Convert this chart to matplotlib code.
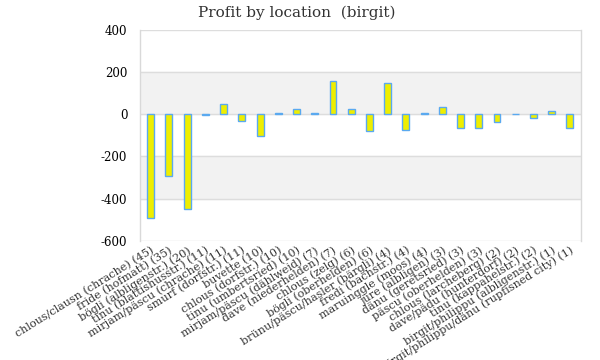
import matplotlib
matplotlib.use("Agg")
import matplotlib.pyplot as plt

# profit per location, with number of events in brackets
locations = [
    "chlous/clausn (chrache) (45)",
    "fride (hofmatt) (35)",
    "bögli (albligenstr.) (20)",
    "tinu (blattishusstr.) (11)",
    "mirjam/päscu (chrache) (11)",
    "smurf (dorfstr.) (11)",
    "buvette (10)",
    "chlous (dorfstr.) (10)",
    "tinu (umbertsried) (10)",
    "mirjam/päscu (dählweid) (7)",
    "dave (niederhelden) (7)",
    "chlous (zelg) (6)",
    "bögli (oberhelden) (6)",
    "brünu/päscu/hasler (bärgli) (4)",
    "fredi (bachstr.) (4)",
    "maruinggle (moos) (4)",
    "jüre (albligen) (3)",
    "dänu (geretsried) (3)",
    "päscu (oberhelden) (3)",
    "chlous (larcheberg) (2)",
    "dave/pädu (hunterdorf) (2)",
    "tinu (kappahelstr.) (2)",
    "birgit/philippu (albligenstr.) (1)",
    "birgit/philippu/dänu (rupfisned city) (1)",
]
profit = [-493, -292, -449, -2, 51, -30, -101, 8, 25, 8, 159, 25,
          -81, 149, -73, 6, 35, -63, -63, -38, -1, -20, 16, -63]
yticks = [400, 200, 0, -200, -400, -600]

plt.rcParams['font.family'] = ['DejaVu Serif']

fig = plt.figure(figsize=(6, 3.6), dpi=100)
ax = fig.add_axes([0.233, 0.331, 0.735, 0.586])

# alternating bands
ax.axhspan(0, 200, color='#f2f2f2', zorder=0)
ax.axhspan(-400, -200, color='#f2f2f2', zorder=0)

x = range(len(locations))
ax.bar(x, profit, width=0.38, color='#eeee00', edgecolor='#5aa9f0', linewidth=1.0, zorder=3)

ax.set_ylim(-600, 400)
ax.set_xlim(-0.6, len(locations) - 0.4)
ax.set_yticks(yticks)
ax.set_yticklabels([str(v) for v in yticks], fontsize=8.5)
ax.yaxis.grid(True, color='#dddddd', linewidth=1, zorder=1)
ax.set_axisbelow(True)

ax.set_xticks(list(x))
ax.set_xticklabels(locations, rotation=32, ha='right', rotation_mode='anchor', fontsize=8, color='#333333')
ax.tick_params(axis='both', length=0, pad=9)
ax.tick_params(axis='x', pad=3)

for s in ['top', 'bottom']:
    ax.spines[s].set_visible(False)
ax.spines['left'].set_color('#d9d9d9')
ax.spines['right'].set_color('#d9d9d9')
ax.spines['left'].set_linewidth(1)
ax.spines['right'].set_linewidth(1)

fig.suptitle("Profit by location  (birgit)", x=0.495, y=0.985, fontsize=11, color='#333333')

fig.savefig("out.png", dpi=100)
